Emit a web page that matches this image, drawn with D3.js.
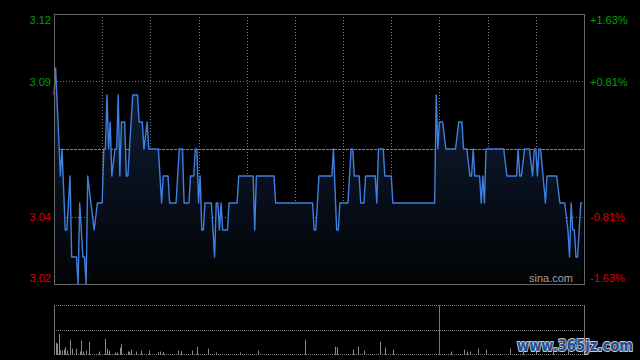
<!DOCTYPE html>
<html>
<head>
<meta charset="utf-8">
<script src="https://cdn.jsdelivr.net/npm/d3@7"></script>
<style>
  html, body { margin: 0; padding: 0; background: #000; }
  svg { display: block; }
</style>
</head>
<body>
<div id="chart"></div>
<script>
// price line: minute index and traded price
const minutes = [0, 1, 4, 5, 7, 8, 10, 11, 14, 15, 16, 18, 19, 20, 21, 23, 25, 27, 30,
  31, 32, 33, 34, 35, 36, 38, 39, 40, 41, 42, 44, 45, 46, 48, 49, 52, 53, 55, 56, 58, 59,
  65, 67, 68, 71, 72, 76, 78, 80, 81, 84, 85, 87, 88, 89, 90, 91, 92, 93, 94, 98, 100,
  101, 102, 103, 104, 105, 108, 109, 114, 115, 124, 125, 126, 137, 138, 161, 162, 163,
  165, 173, 174, 176, 177, 178, 183, 185, 186, 187, 190, 191, 193, 194, 200, 201, 202,
  205, 206, 210, 211, 237, 238, 239, 240, 242, 244, 250, 252, 254, 255, 257, 259, 260,
  261, 262, 265, 266, 267, 268, 269, 280, 282, 288, 289, 290, 291, 293, 296, 298, 299,
  300, 301, 302, 303, 306, 307, 313, 315, 318, 320, 321, 322, 323, 324, 325, 326, 328, 329];
const prices = [3.09, 3.10, 3.06, 3.07, 3.04, 3.04, 3.06, 3.03, 3.03, 3.02, 3.05, 3.03, 3.03, 3.02, 3.06, 3.05, 3.04, 3.05, 3.05,
  3.07, 3.07, 3.09, 3.07, 3.08, 3.06, 3.07, 3.07, 3.09, 3.06, 3.08, 3.08, 3.06, 3.06, 3.08, 3.09, 3.09, 3.08, 3.08, 3.07, 3.08, 3.07,
  3.07, 3.05, 3.06, 3.06, 3.05, 3.05, 3.07, 3.07, 3.05, 3.05, 3.06, 3.06, 3.07, 3.07, 3.05, 3.06, 3.04, 3.04, 3.05, 3.05, 3.03,
  3.05, 3.05, 3.04, 3.05, 3.04, 3.04, 3.05, 3.05, 3.06, 3.06, 3.04, 3.06, 3.06, 3.05, 3.05, 3.04, 3.04,
  3.06, 3.06, 3.07, 3.04, 3.04, 3.05, 3.05, 3.07, 3.07, 3.06, 3.06, 3.05, 3.05, 3.06, 3.06, 3.05, 3.07,
  3.07, 3.06, 3.06, 3.05, 3.05, 3.09, 3.07, 3.08, 3.08, 3.07, 3.07, 3.08, 3.08, 3.07, 3.07, 3.06, 3.06,
  3.07, 3.06, 3.06, 3.05, 3.06, 3.05, 3.07, 3.07, 3.06, 3.06, 3.07, 3.06, 3.06, 3.07, 3.07, 3.06, 3.07,
  3.07, 3.06, 3.07, 3.07, 3.05, 3.06, 3.06, 3.05, 3.05, 3.04, 3.03, 3.05, 3.04, 3.04, 3.03, 3.03, 3.05, 3.05];

// volume bars (only minutes with a visible bar)
const volMinutes = [1, 2, 3, 4, 5, 6, 7, 8, 10, 11, 14, 16, 17, 18, 20, 22, 28, 32, 33, 34, 38, 39,
  41, 42, 46, 47, 48, 51, 54, 59, 65, 66, 68, 77, 79, 86, 89, 96, 101, 116, 127, 156,
  175, 176, 186, 189, 193, 203, 206, 211, 247, 255, 257, 259, 264, 269, 284, 292, 300, 311, 320];
const volumes = [115, 105, 205, 40, 35, 45, 70, 35, 145, 55, 55, 25, 135, 25, 35, 125, 25, 155, 55, 35, 15, 15,
  65, 105, 25, 25, 45, 25, 35, 35, 20, 25, 20, 35, 30, 35, 75, 55, 15, 15, 35, 145,
  75, 70, 45, 75, 35, 125, 65, 45, 25, 45, 25, 25, 55, 45, 55, 25, 35, 25, 30];

const prevClose = 3.07;
const gridPrices = [3.12, 3.095, 3.07, 3.045, 3.02];
const priceLabels = ["3.12", "3.09", "", "3.04", "3.02"];
const pctLabels = ["+1.63%", "+0.81%", "", "-0.81%", "-1.63%"];
const timeGrid = [30, 60, 90, 120, 150, 180, 210, 240, 270, 300];

const width = 640, height = 360;
const plotLeft = 54, plotRight = 584, plotTop = 14, plotBottom = 284;
const volTop = 305, volBottom = 354;

const x = d3.scaleLinear().domain([0, 330]).range([plotLeft, plotRight]);
const y = d3.scaleLinear().domain([prevClose - 0.05, prevClose + 0.05]).range([plotBottom, plotTop]);
const yv = d3.scaleLinear().domain([0, 500]).range([volBottom, volTop]);

const svg = d3.select("#chart").append("svg")
    .attr("width", width)
    .attr("height", height)
    .style("background", "#000");

const defs = svg.append("defs");
const grad = defs.append("linearGradient")
    .attr("id", "fill")
    .attr("gradientUnits", "userSpaceOnUse")
    .attr("x1", 0).attr("x2", 0)
    .attr("y1", y(3.10)).attr("y2", plotBottom);
grad.append("stop").attr("offset", 0).attr("stop-color", "#11203a");
grad.append("stop").attr("offset", 1).attr("stop-color", "#020305");

const crisp = (v) => Math.round(v) + 0.5;

// vertical grid
svg.append("g").selectAll("line")
    .data(timeGrid)
    .enter().append("line")
    .attr("x1", (d) => crisp(x(d))).attr("x2", (d) => crisp(x(d)))
    .attr("y1", plotTop).attr("y2", plotBottom)
    .attr("stroke", "#777")
    .attr("stroke-dasharray", "1,2");

// horizontal grid
svg.append("g").selectAll("line")
    .data(gridPrices.slice(1, 4))
    .enter().append("line")
    .attr("x1", plotLeft).attr("x2", plotRight)
    .attr("y1", (d) => crisp(y(d))).attr("y2", (d) => crisp(y(d)))
    .attr("stroke", (d) => d === prevClose ? "#888" : "#777")
    .attr("stroke-dasharray", (d) => d === prevClose ? "3,1" : "1,2");

const pts = minutes.map((m, i) => [m, prices[i]]);

svg.append("path")
    .datum(pts)
    .attr("fill", "url(#fill)")
    .attr("d", d3.area()
        .x((d) => x(d[0]))
        .y0(plotBottom)
        .y1((d) => y(d[1])));

svg.append("path")
    .datum(pts)
    .attr("fill", "none")
    .attr("stroke", "#3f7fe0")
    .attr("stroke-width", 1.4)
    .attr("stroke-linejoin", "round")
    .attr("d", d3.line()
        .x((d) => x(d[0]))
        .y((d) => y(d[1])));

// price panel border
svg.append("rect")
    .attr("x", plotLeft + 0.5).attr("y", plotTop + 0.5)
    .attr("width", plotRight - plotLeft).attr("height", plotBottom - plotTop)
    .attr("fill", "none")
    .attr("stroke", "#666");

svg.append("text")
    .attr("x", 573).attr("y", 282)
    .attr("text-anchor", "end")
    .attr("fill", "#a0a0a0")
    .style("font", "11px 'Liberation Sans', Arial, sans-serif")
    .text("sina.com");

// axis labels
const labelY = (d, i) => i === 0 ? y(d) + 10 : (i === gridPrices.length - 1 ? y(d) - 2 : y(d) + 4);
const labelColor = (d) => d > prevClose ? "#00a000" : "#dd0000";

svg.append("g").selectAll("text")
    .data(gridPrices)
    .enter().append("text")
    .attr("x", 51)
    .attr("y", labelY)
    .attr("text-anchor", "end")
    .attr("fill", labelColor)
    .style("font", "11px 'Liberation Sans', Arial, sans-serif")
    .text((d, i) => priceLabels[i]);

svg.append("g").selectAll("text")
    .data(gridPrices)
    .enter().append("text")
    .attr("x", 590)
    .attr("y", labelY)
    .attr("fill", labelColor)
    .style("font", "11px 'Liberation Sans', Arial, sans-serif")
    .text((d, i) => pctLabels[i]);

// volume panel
svg.append("g").selectAll("line")
    .data([500, 250, 0])
    .enter().append("line")
    .attr("x1", plotLeft).attr("x2", plotRight)
    .attr("y1", (d) => crisp(yv(d))).attr("y2", (d) => crisp(yv(d)))
    .attr("stroke", "#777")
    .attr("stroke-dasharray", "1,1");

svg.append("g").selectAll("line")
    .data([0, 240, 330])
    .enter().append("line")
    .attr("x1", (d) => crisp(x(d))).attr("x2", (d) => crisp(x(d)))
    .attr("y1", volTop).attr("y2", volBottom + 1)
    .attr("stroke", "#777");

svg.append("g").selectAll("rect")
    .data(volMinutes)
    .enter().append("rect")
    .attr("x", (d) => Math.round(x(d)))
    .attr("y", (d, i) => yv(volumes[i]))
    .attr("width", 1)
    .attr("height", (d, i) => volBottom + 1 - yv(volumes[i]))
    .attr("fill", "#888");

// site watermark
svg.append("text")
    .attr("x", 517).attr("y", 351)
    .attr("textLength", 116)
    .attr("lengthAdjust", "spacingAndGlyphs")
    .attr("fill", "#1d4f96")
    .attr("stroke", "#c8c8c8")
    .attr("stroke-width", 2)
    .attr("stroke-linejoin", "round")
    .attr("paint-order", "stroke")
    .style("font", "bold 15px 'DejaVu Sans', sans-serif")
    .text("www.365jz.com");
</script>
</body>
</html>
